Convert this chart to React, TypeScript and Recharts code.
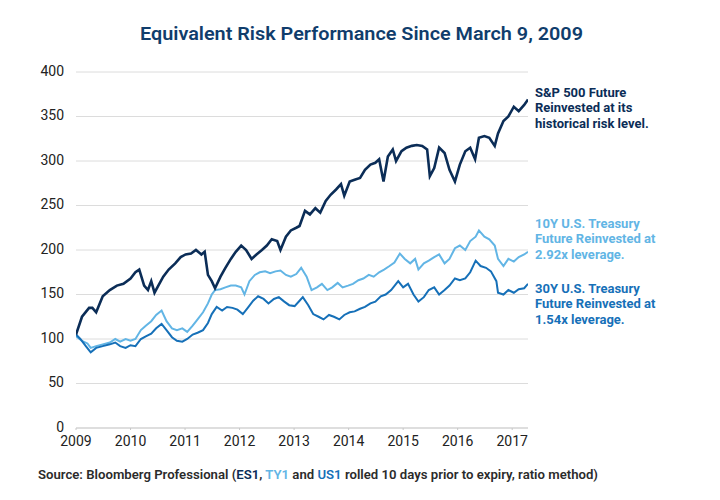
import { LineChart, Line, XAxis, YAxis, CartesianGrid } from 'recharts';

const YEAR_TICKS = [2009, 2010, 2011, 2012, 2013, 2014, 2015, 2016, 2017];
const VALUE_TICKS = [0, 50, 100, 150, 200, 250, 300, 350, 400];

// years after the 2009 tick
const SP_T = [
  0, 0.11, 0.24, 0.3, 0.37, 0.49, 0.62, 0.75, 0.87, 1.0,
  1.09, 1.16, 1.25, 1.32, 1.38, 1.44, 1.51, 1.6, 1.7, 1.82,
  1.92, 2.01, 2.11, 2.2, 2.3, 2.36, 2.42, 2.49, 2.55, 2.65,
  2.74, 2.84, 2.93, 3.03, 3.12, 3.22, 3.31, 3.41, 3.5, 3.59,
  3.69, 3.75, 3.85, 3.94, 4.04, 4.1, 4.2, 4.29, 4.39, 4.48,
  4.58, 4.67, 4.77, 4.86, 4.92, 5.02, 5.11, 5.21, 5.3, 5.4,
  5.49, 5.56, 5.64, 5.72, 5.81, 5.87, 5.97, 6.06, 6.16, 6.25,
  6.35, 6.44, 6.49, 6.57, 6.66, 6.76, 6.85, 6.95, 7.04, 7.14,
  7.23, 7.32, 7.39, 7.49, 7.58, 7.68, 7.74, 7.84, 7.93, 8.03,
  8.12, 8.22, 8.29,
];
const SP_V = [
  105, 125, 135, 135, 130, 148, 155, 160, 162, 168,
  175, 178, 160, 155, 165, 152, 160, 170, 178, 185,
  192, 195, 196, 200, 195, 198, 172, 165, 157, 170,
  180, 190, 198, 205, 200, 190, 195, 200, 205, 212,
  210, 200, 215, 222, 225, 227, 244, 240, 247, 242,
  255, 262, 268, 274, 261, 277, 279, 281, 290, 296,
  298, 302, 277, 305, 313, 300, 311, 315, 317, 318,
  317, 313, 283, 292, 315, 309, 290, 277, 296, 311,
  315, 302, 326, 328, 326, 317, 331, 345, 350, 361,
  356, 363, 369,
];

const TY_T = [
  0, 0.11, 0.21, 0.27, 0.37, 0.49, 0.62, 0.72, 0.81, 0.91,
  1.0, 1.09, 1.19, 1.28, 1.38, 1.47, 1.57, 1.66, 1.76, 1.85,
  1.95, 2.04, 2.14, 2.23, 2.33, 2.42, 2.49, 2.55, 2.65, 2.74,
  2.84, 2.93, 3.03, 3.09, 3.18, 3.28, 3.37, 3.47, 3.56, 3.66,
  3.75, 3.85, 3.94, 4.04, 4.13, 4.23, 4.32, 4.42, 4.51, 4.61,
  4.7, 4.8, 4.89, 4.99, 5.08, 5.18, 5.27, 5.37, 5.46, 5.56,
  5.65, 5.75, 5.84, 5.94, 6.03, 6.13, 6.22, 6.28, 6.38, 6.47,
  6.57, 6.66, 6.76, 6.85, 6.95, 7.04, 7.14, 7.23, 7.33, 7.39,
  7.49, 7.58, 7.68, 7.74, 7.84, 7.93, 8.03, 8.12, 8.22, 8.29,
];
const TY_V = [
  103, 98, 95, 90, 92, 94, 96, 100, 97, 100,
  98, 100, 110, 115, 120, 127, 132, 120, 112, 110,
  112, 108, 115, 122, 130, 140, 150, 155, 156, 158,
  160, 160, 158, 150, 165, 172, 175, 176, 174, 176,
  177, 172, 170, 173, 180, 170, 155, 158, 162, 155,
  158, 163, 158, 160, 162, 166, 168, 172, 170, 175,
  178, 182, 186, 196, 190, 185, 190, 178, 185, 188,
  192, 195, 185, 190, 202, 205, 200, 210, 215, 222,
  215, 212, 205, 190, 182, 190, 187, 192, 195, 198,
];

const US_T = [
  0, 0.08, 0.18, 0.27, 0.37, 0.49, 0.62, 0.72, 0.81, 0.91,
  1.0, 1.09, 1.19, 1.28, 1.38, 1.47, 1.57, 1.66, 1.76, 1.85,
  1.95, 2.04, 2.14, 2.23, 2.33, 2.42, 2.49, 2.58, 2.68, 2.77,
  2.87, 2.96, 3.06, 3.15, 3.25, 3.34, 3.44, 3.53, 3.63, 3.72,
  3.82, 3.91, 4.01, 4.1, 4.16, 4.26, 4.35, 4.45, 4.54, 4.64,
  4.73, 4.83, 4.92, 5.02, 5.11, 5.21, 5.3, 5.4, 5.49, 5.59,
  5.68, 5.78, 5.91, 6.0, 6.09, 6.19, 6.28, 6.38, 6.47, 6.57,
  6.66, 6.76, 6.85, 6.95, 7.04, 7.14, 7.23, 7.33, 7.42, 7.52,
  7.61, 7.71, 7.74, 7.84, 7.93, 8.03, 8.12, 8.22, 8.29,
];
const US_V = [
  105, 100, 92, 85, 90, 92, 94, 96, 92, 90,
  93, 92, 100, 103, 106, 112, 117, 110, 102, 98,
  97, 100, 105, 107, 110, 118, 128, 136, 132, 136,
  135, 133, 128, 135, 143, 148, 145, 140, 145, 147,
  142, 138, 137, 143, 147, 138, 128, 125, 122, 127,
  125, 122, 127, 130, 131, 134, 136, 140, 142, 148,
  150, 155, 165, 158, 162, 150, 142, 147, 155, 158,
  150, 155, 160, 168, 166, 168, 175, 188, 182, 180,
  176, 165, 152, 150, 155, 152, 156, 157, 162,
];

const toPoints = (t: number[], v: number[]) => t.map((x, i) => ({ t: 2009 + x, v: v[i] }));

const NAVY = '#0b2d57';
const LIGHT = '#62b5e5';
const MID = '#1670b8';
const FONT = 'Roboto, "Noto Sans", sans-serif';

export default function App() {
  const sp = toPoints(SP_T, SP_V);
  const ty = toPoints(TY_T, TY_V);
  const us = toPoints(US_T, US_V);

  return (
    <div style={{ position: 'absolute', left: 0, top: 0, width: 720, height: 500, background: '#fff', fontFamily: FONT }}>
      <LineChart width={720} height={500} margin={{ top: 72, right: 192, left: 16, bottom: 42 }}>
        <CartesianGrid vertical={false} stroke="#dcdcdc" strokeWidth={1} />
        <XAxis
          type="number"
          dataKey="t"
          domain={[2009, 2017.29]}
          ticks={YEAR_TICKS}
          allowDataOverflow
          height={30}
          tick={{ fill: '#222', fontSize: 14, fontFamily: FONT }}
          tickSize={2}
          tickMargin={6}
          tickLine={{ stroke: '#c8c8c8' }}
          axisLine={{ stroke: '#cfcfcf' }}
        />
        <YAxis
          type="number"
          domain={[0, 400]}
          ticks={VALUE_TICKS}
          width={60}
          tick={{ fill: '#222', fontSize: 14, fontFamily: FONT, dy: -1 }}
          tickSize={0}
          tickMargin={12}
          axisLine={false}
          tickLine={false}
        />
        <Line data={ty} dataKey="v" type="linear" stroke={LIGHT} strokeWidth={2} dot={false} isAnimationActive={false} />
        <Line data={us} dataKey="v" type="linear" stroke={MID} strokeWidth={2} dot={false} isAnimationActive={false} />
        <Line data={sp} dataKey="v" type="linear" stroke={NAVY} strokeWidth={2.6} dot={false} isAnimationActive={false} />
      </LineChart>
      <svg width={720} height={500} style={{ position: 'absolute', left: 0, top: 0, pointerEvents: 'none' }}>
        <text x={140} y={40} textLength={443} lengthAdjust="spacingAndGlyphs" fill="#103d6c" fontSize={19} fontWeight={600} fontFamily={FONT}>
          Equivalent Risk Performance Since March 9, 2009
        </text>
        <g fontSize={13} fontWeight={700} fontFamily={FONT}>
          <text x={535} y={97} fill={NAVY}>S&amp;P 500 Future</text>
          <text x={535} y={112} fill={NAVY}>Reinvested at its</text>
          <text x={535} y={128} fill={NAVY}>historical risk level.</text>
          <text x={535} y={228} fill={LIGHT}>10Y U.S. Treasury</text>
          <text x={535} y={243} fill={LIGHT}>Future Reinvested at</text>
          <text x={535} y={259} fill={LIGHT}>2.92x leverage.</text>
          <text x={535} y={293} fill={MID}>30Y U.S. Treasury</text>
          <text x={535} y={308} fill={MID}>Future Reinvested at</text>
          <text x={535} y={324} fill={MID}>1.54x leverage.</text>
        </g>
        <text x={38} y={479} textLength={560} lengthAdjust="spacingAndGlyphs" fill="#2b2b2b" fontSize={13} fontWeight={600} fontFamily={FONT}>
          Source: Bloomberg Professional (<tspan fill={NAVY}>ES1</tspan>, <tspan fill={LIGHT}>TY1</tspan> and{' '}
          <tspan fill={MID}>US1</tspan> rolled 10 days prior to expiry, ratio method)
        </text>
      </svg>
    </div>
  );
}
